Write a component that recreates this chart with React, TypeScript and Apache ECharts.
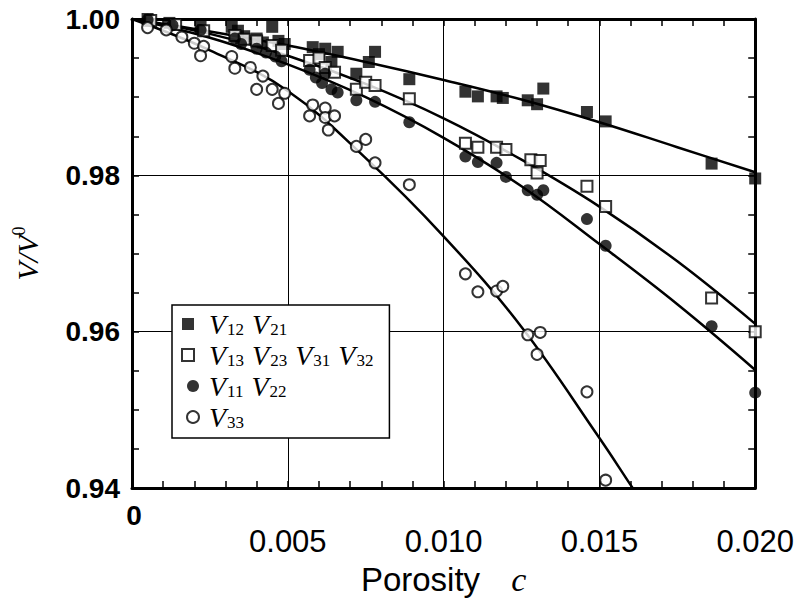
import React, { useEffect, useRef } from 'react';
import * as echarts from 'echarts';

// ---- data (porosity c, V/V0) ----
const legendNames = ['V12 V21', 'V13 V23 V31 V32', 'V11 V22', 'V33'];

const xTickValues = [0, 0.005, 0.01, 0.015, 0.02];
const yTickValues = [0.94, 0.96, 0.98, 1.0];

const v12v21: [number, number][] = [
  [0.0005, 1.0], [0.0012, 0.9995], [0.0022, 0.999], [0.0032, 0.999], [0.0034, 0.9985],
  [0.0036, 0.9978], [0.004, 0.9975], [0.0042, 0.997], [0.0045, 0.999], [0.0047, 0.9972],
  [0.0049, 0.9968], [0.0058, 0.9964], [0.006, 0.9955], [0.0062, 0.9962], [0.0064, 0.9945],
  [0.0066, 0.9958], [0.0072, 0.993], [0.0076, 0.9945], [0.0078, 0.9958], [0.0089, 0.9923],
  [0.0107, 0.9907], [0.0111, 0.9901], [0.0117, 0.9901], [0.0119, 0.9899], [0.0127, 0.9896],
  [0.013, 0.9891], [0.0132, 0.9911], [0.0146, 0.9881], [0.0152, 0.9869], [0.0186, 0.9815],
  [0.02, 0.9796],
];

const v13v23v31v32: [number, number][] = [
  [0.0006, 0.9998], [0.0014, 0.9993], [0.0023, 0.9985], [0.0033, 0.9979], [0.0036, 0.9974],
  [0.004, 0.9972], [0.0045, 0.9966], [0.0048, 0.996], [0.0057, 0.9947], [0.006, 0.995],
  [0.0062, 0.9938], [0.0065, 0.9932], [0.0072, 0.991], [0.0075, 0.9919], [0.0078, 0.9915],
  [0.0089, 0.9898], [0.0107, 0.9841], [0.0111, 0.9836], [0.0117, 0.9836], [0.012, 0.9833],
  [0.0128, 0.982], [0.0131, 0.9819], [0.013, 0.9803], [0.0146, 0.9786], [0.0152, 0.976],
  [0.0186, 0.9643], [0.02, 0.96],
];

const v11v22: [number, number][] = [
  [0.0005, 0.9999], [0.0013, 0.9992], [0.0022, 0.9986], [0.0033, 0.9975], [0.0035, 0.9968],
  [0.004, 0.9962], [0.0043, 0.9957], [0.0046, 0.9952], [0.0048, 0.9946], [0.0057, 0.9935],
  [0.0059, 0.9925], [0.0061, 0.9918], [0.0062, 0.993], [0.0064, 0.991], [0.0066, 0.9906],
  [0.0072, 0.9896], [0.0078, 0.9894], [0.0089, 0.9868], [0.0107, 0.9824], [0.0111, 0.9817],
  [0.0117, 0.9816], [0.012, 0.9798], [0.0127, 0.9781], [0.013, 0.9775], [0.0132, 0.9781],
  [0.0146, 0.9744], [0.0152, 0.971], [0.0186, 0.9607], [0.02, 0.9522],
];

const v33: [number, number][] = [
  [0.0005, 0.9989], [0.0011, 0.9986], [0.0016, 0.9977], [0.002, 0.9969], [0.0023, 0.9965],
  [0.0022, 0.9953], [0.0032, 0.9952], [0.0033, 0.9937], [0.0038, 0.9938], [0.0042, 0.9927],
  [0.004, 0.991], [0.0045, 0.991], [0.0049, 0.9905], [0.0047, 0.9892], [0.0058, 0.989],
  [0.0062, 0.9886], [0.0057, 0.9876], [0.0062, 0.9874], [0.0065, 0.9876], [0.0063, 0.9858],
  [0.0072, 0.9837], [0.0075, 0.9846], [0.0078, 0.9816], [0.0089, 0.9788], [0.0107, 0.9674],
  [0.0111, 0.9651], [0.0117, 0.9652], [0.0119, 0.9658], [0.0127, 0.9596], [0.0131, 0.9599],
  [0.013, 0.9571], [0.0146, 0.9523], [0.0152, 0.941],
];

// fitted curves
const fitV12: [number, number][] = [
  [0, 1.0], [0.0025, 0.9984], [0.005, 0.9966], [0.0075, 0.9945], [0.01, 0.9922],
  [0.0125, 0.9897], [0.015, 0.9868], [0.0175, 0.9836], [0.02, 0.9804],
];
const fitV13: [number, number][] = [
  [0, 1.0], [0.0025, 0.9981], [0.005, 0.9953], [0.0075, 0.9917], [0.01, 0.9873],
  [0.0125, 0.982], [0.015, 0.976], [0.0175, 0.969], [0.02, 0.961],
];
const fitV11: [number, number][] = [
  [0, 1.0], [0.0025, 0.9976], [0.005, 0.9942], [0.0075, 0.99], [0.01, 0.9848],
  [0.0125, 0.9786], [0.015, 0.9712], [0.0175, 0.9635], [0.02, 0.9551],
];
const fitV33: [number, number][] = [
  [0, 1.0], [0.0025, 0.996], [0.005, 0.9908], [0.0075, 0.9822], [0.01, 0.9722],
  [0.0125, 0.9606], [0.015, 0.9464], [0.016, 0.9404], [0.0161, 0.9398],
];

const serif = "'Liberation Serif', 'DejaVu Serif', serif";
const sans = "'Liberation Sans', Arial, sans-serif";

const legendFormatter = (name: string) =>
  name
    .split(' ')
    .map((t) => `{v|V}{s|${t.slice(1)}}`)
    .join('{sp| }');

export default function App() {
  const ref = useRef<HTMLDivElement>(null);

  useEffect(() => {
    if (!ref.current) return;
    const chart = echarts.init(ref.current, undefined, { renderer: 'svg' });

    const scatterBase = { type: 'scatter' as const, z: 5, xAxisIndex: 0, yAxisIndex: 0 };
    const lineBase = {
      type: 'line' as const,
      symbol: 'none',
      smooth: 0.4,
      silent: true,
      z: 3,
      lineStyle: { color: '#000', width: 2.5 },
      xAxisIndex: 0,
      yAxisIndex: 0,
    };

    const axisCommon = {
      type: 'value' as const,
      axisLine: { show: true, onZero: false, lineStyle: { color: '#000', width: 3 } },
      axisTick: { show: true, inside: true, length: 7, lineStyle: { color: '#000', width: 1.5 } },
      minorTick: { show: true, length: 7, lineStyle: { color: '#000', width: 1.5 } },
    };

    chart.setOption({
      animation: false,
      backgroundColor: '#fff',
      grid: { left: 132, right: 37, top: 19, bottom: 119, containLabel: false },
      xAxis: [
        {
          ...axisCommon,
          position: 'bottom',
          min: xTickValues[0],
          max: xTickValues[xTickValues.length - 1],
          interval: 0.005,
          minorTick: { ...axisCommon.minorTick, splitNumber: 5 },
          splitLine: { show: true, lineStyle: { color: '#000', width: 1 } },
          axisLabel: {
            margin: 38,
            fontFamily: sans,
            fontSize: 31,
            color: '#000',
            formatter: (v: number) => (Math.abs(v) < 1e-9 ? '' : v.toFixed(3)),
          },
          name: '{p|Porosity}{sp|  }{c|c}',
          nameLocation: 'middle',
          nameGap: 73,
          nameTextStyle: {
            rich: {
              p: { fontFamily: sans, fontSize: 33, color: '#000', lineHeight: 36 },
              sp: { fontFamily: sans, fontSize: 20, lineHeight: 36, padding: [0, 10, 0, 10] },
              c: { fontFamily: serif, fontStyle: 'italic', fontSize: 34, color: '#000', lineHeight: 36 },
            },
          },
        },
        {
          ...axisCommon,
          position: 'top',
          min: xTickValues[0],
          max: xTickValues[xTickValues.length - 1],
          interval: 0.005,
          minorTick: { ...axisCommon.minorTick, splitNumber: 5 },
          splitLine: { show: false },
          axisLabel: { show: false },
        },
      ],
      yAxis: [
        {
          ...axisCommon,
          position: 'left',
          min: yTickValues[0],
          max: yTickValues[yTickValues.length - 1],
          interval: 0.02,
          minorTick: { ...axisCommon.minorTick, splitNumber: 4 },
          splitLine: { show: true, lineStyle: { color: '#000', width: 1 } },
          axisLabel: {
            margin: 12,
            fontFamily: sans,
            fontWeight: 'bold',
            fontSize: 28,
            color: '#000',
            formatter: (v: number) => v.toFixed(2),
          },
          name: '{v|V/V}{sup|0}',
          nameLocation: 'middle',
          nameRotate: 90,
          nameGap: 88,
          nameTextStyle: {
            rich: {
              v: { fontFamily: serif, fontStyle: 'italic', fontSize: 30, color: '#000', lineHeight: 34 },
              sup: { fontFamily: serif, fontSize: 18, color: '#000', lineHeight: 18, verticalAlign: 'top' },
            },
          },
        },
        {
          ...axisCommon,
          position: 'right',
          min: yTickValues[0],
          max: yTickValues[yTickValues.length - 1],
          interval: 0.02,
          minorTick: { ...axisCommon.minorTick, splitNumber: 4 },
          splitLine: { show: false },
          axisLabel: { show: false },
        },
      ],
      legend: {
        show: true,
        orient: 'vertical',
        left: 172,
        top: 305,
        data: legendNames,
        selectedMode: false,
        backgroundColor: '#fff',
        borderColor: '#000',
        borderWidth: 1.5,
        borderRadius: 0,
        padding: [5, 15, 7, 9],
        itemGap: 3,
        itemWidth: 22,
        itemHeight: 12,
        formatter: legendFormatter,
        textStyle: {
          color: '#000',
          rich: {
            v: { fontFamily: serif, fontStyle: 'italic', fontSize: 28, color: '#000', lineHeight: 27 },
            s: {
              fontFamily: serif,
              fontSize: 17,
              color: '#000',
              lineHeight: 16,
              verticalAlign: 'bottom',
              padding: [0, 1, 0, 1],
            },
            sp: { fontFamily: serif, fontSize: 28, lineHeight: 27 },
          },
        },
      },
      graphic: [
        {
          type: 'text',
          x: 134,
          y: 515,
          style: {
            text: String(xTickValues[0]),
            fontFamily: sans,
            fontWeight: 'bold',
            fontSize: 28,
            fill: '#000',
            align: 'center',
            verticalAlign: 'middle',
          },
        },
      ],
      series: [
        { ...lineBase, name: 'fit-V12', data: fitV12 },
        { ...lineBase, name: 'fit-V13', data: fitV13 },
        { ...lineBase, name: 'fit-V11', data: fitV11 },
        { ...lineBase, name: 'fit-V33', data: fitV33 },
        {
          ...scatterBase,
          name: legendNames[0],
          symbol: 'square',
          symbolSize: 12,
          itemStyle: { color: '#000' },
          data: v12v21,
        },
        {
          ...scatterBase,
          name: legendNames[1],
          symbol: 'square',
          symbolSize: 11,
          itemStyle: { color: '#fff', borderColor: '#000', borderWidth: 2 },
          data: v13v23v31v32,
        },
        {
          ...scatterBase,
          name: legendNames[2],
          symbol: 'circle',
          symbolSize: 12,
          itemStyle: { color: '#000' },
          data: v11v22,
        },
        {
          ...scatterBase,
          name: legendNames[3],
          symbol: 'circle',
          symbolSize: 11,
          itemStyle: { color: '#fff', borderColor: '#000', borderWidth: 2 },
          data: v33,
        },
      ],
    });

    return () => chart.dispose();
  }, []);

  return (
    <div
      ref={ref}
      style={{ position: 'fixed', left: 0, top: 0, width: 797, height: 607, background: '#fff' }}
    />
  );
}
